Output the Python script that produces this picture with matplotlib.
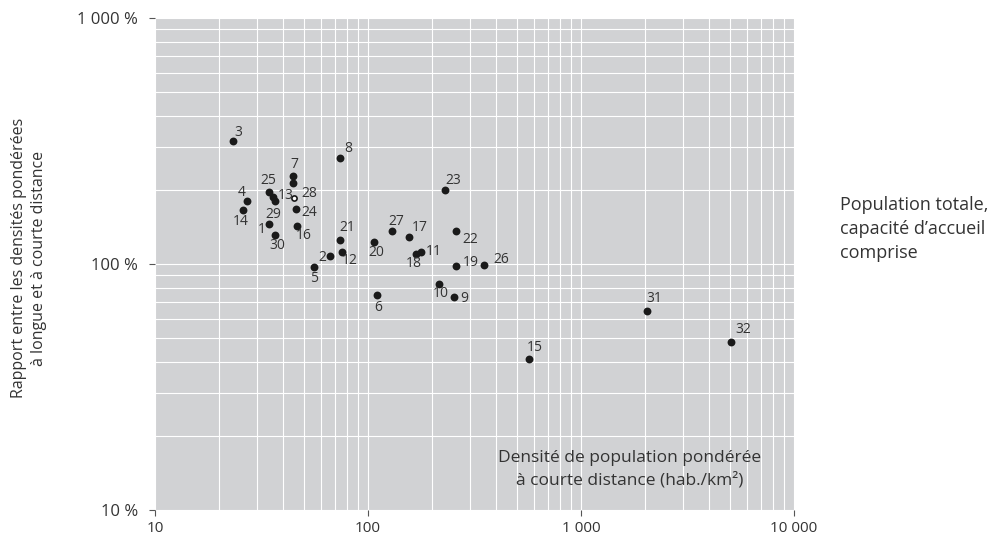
import matplotlib
matplotlib.use("Agg")
import matplotlib.pyplot as plt
from matplotlib.ticker import FixedLocator, NullFormatter

plt.rcParams['font.family'] = ['Open Sans', 'DejaVu Sans']

# ---- data ----
labels = ['1', '2', '3', '4', '5', '6', '7', '', '8', '9', '10', '11', '12', '13',
          '14', '15', '16', '17', '18', '19', '20', '21', '22', '23', '24', '25',
          '26', '27', '28', '29', '30', '31', '32']
density = [34.3, 66.6, 23.3, 27.1, 55.6, 110.5, 44.3, 44.3, 74.0, 254, 216, 176.6,
           75.3, 36.0, 26.0, 569, 46.2, 156.3, 168.6, 258.8, 106.5, 74.0, 258.8,
           229, 45.7, 34.4, 351, 130, 44.8, 36.5, 36.4, 2037, 5064]
ratio = [146, 108, 315, 180, 97.5, 74.7, 228.6, 213, 270, 73.5, 83.1, 112.2,
         112.2, 188, 166.5, 41.2, 143.3, 128.8, 110.2, 98.4, 122.6, 125.6, 136,
         200, 167, 197, 99.3, 136, 185, 181, 131.3, 64.5, 48.4]
hollow = ['28']

x_ticks = [10, 100, 1000, 10000]
x_ticklabels = ['10', '100', '1 000', '10 000']
y_ticks = [10, 100, 1000]
y_ticklabels = ['10 %', '100 %', '1 000 %']

# label offsets (pixels, centre of text relative to point)
offsets = {
    '1': (-7, -6), '2': (-8, -2), '3': (5, 9), '4': (-6, 9), '5': (0, -12),
    '6': (1, -12), '7': (2, 11), '8': (8, 9), '9': (10, -2), '10': (2, -10),
    '11': (13, 0), '12': (8, -9), '13': (12, 1), '14': (-3, -12), '15': (6, 11),
    '16': (7, -10), '17': (10, 9), '18': (-3, -10), '19': (15, 3), '20': (2, -10),
    '21': (7, 12), '22': (14, -8), '23': (9, 9), '24': (14, -3), '25': (-1, 11),
    '26': (17, 5), '27': (4, 10), '28': (16, 5), '29': (-1, -14), '30': (3, -11),
    '31': (7, 12), '32': (12, 12),
}

fig = plt.figure(figsize=(10.06, 5.35), dpi=100)
ax = fig.add_axes([155 / 1006, 25 / 535, 639 / 1006, 492 / 535])
ax.set_facecolor('#d1d2d4')
ax.set_xscale('log')
ax.set_yscale('log')
ax.set_xlim(10, 10000)
ax.set_ylim(10, 1000)

ax.set_xticks(x_ticks)
ax.set_xticklabels(x_ticklabels)
ax.set_yticks(y_ticks)
ax.set_yticklabels(y_ticklabels)
xminor = [m * 10 ** e for e in range(1, 4) for m in range(2, 10)]
yminor = [m * 10 ** e for e in range(1, 3) for m in range(2, 10)]
ax.xaxis.set_minor_locator(FixedLocator(xminor))
ax.yaxis.set_minor_locator(FixedLocator(yminor))
ax.xaxis.set_minor_formatter(NullFormatter())
ax.yaxis.set_minor_formatter(NullFormatter())
ax.grid(True, which='both', color='white', linewidth=0.8)
ax.set_axisbelow(True)
ax.tick_params(which='minor', length=0)
ax.tick_params(which='major', length=4, width=0.8, color='#555555',
               labelsize=11, labelcolor='#333333', direction='out')
ax.tick_params(axis='y', pad=8, labelsize=12)
ax.tick_params(axis='x', pad=4)
for s in ax.spines.values():
    s.set_visible(False)

for lab, xv, yv in zip(labels, density, ratio):
    if lab in hollow:
        ax.scatter([xv], [yv], s=14, facecolor='white', edgecolor='#1a1a1a',
                   linewidth=1.2, zorder=3)
    else:
        ax.scatter([xv], [yv], s=32, color='#1a1a1a', linewidth=0, zorder=3)
    if lab:
        dx, dy = offsets[lab]
        ax.annotate(lab, (xv, yv), xytext=(dx, dy), textcoords='offset pixels',
                    ha='center', va='center', fontsize=10, color='#333333', zorder=4)

ax.text(0.743, 0.083, 'Densité de population pondérée\nà courte distance (hab./km²)',
        transform=ax.transAxes, ha='center', va='center', fontsize=12.5,
        color='#333333', linespacing=1.45)

fig.text(29 / 1006, 1 - 258 / 535,
         'Rapport entre les densités pondérées\nà longue et à courte distance',
         rotation=90, ha='center', va='center', fontsize=11.5, color='#333333',
         linespacing=1.35, multialignment='center')

fig.text(840 / 1006, 1 - 229 / 535,
         'Population totale,\ncapacité d’accueil\ncomprise',
         ha='left', va='center', fontsize=13, color='#333333', linespacing=1.4)

fig.savefig('out.png', dpi=100)
